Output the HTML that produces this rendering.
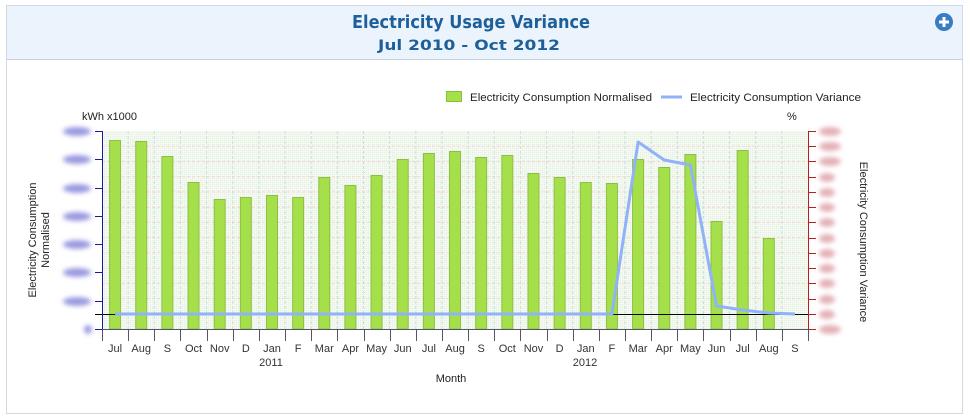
<!DOCTYPE html>
<html><head><meta charset="utf-8"><style>
html,body{margin:0;padding:0;background:#fff;width:970px;height:419px;overflow:hidden;font-family:"Liberation Sans",sans-serif}
</style></head><body>
<svg width="970" height="419" viewBox="0 0 970 419" xmlns="http://www.w3.org/2000/svg" font-family="Liberation Sans, sans-serif">
<defs>
<filter id="bl" x="-50%" y="-100%" width="200%" height="300%"><feGaussianBlur stdDeviation="2.5"/></filter>
<pattern id="dots" width="2" height="2" patternUnits="userSpaceOnUse"><rect width="2" height="2" fill="#f4faf2"/><rect width="1" height="1" fill="#e4efe2"/></pattern>
</defs>
<rect x="0" y="0" width="970" height="419" fill="#fff"/>
<rect x="6.5" y="5.5" width="956" height="408" fill="#fff" stroke="#d4d8e0"/>
<rect x="7" y="6" width="955" height="53" fill="#ebf4fc"/>
<line x1="7" y1="59.5" x2="962" y2="59.5" stroke="#c8d0dc"/>
<text x="352" y="28" textLength="238" lengthAdjust="spacingAndGlyphs" font-family="DejaVu Sans, sans-serif" font-size="18" font-weight="bold" fill="#1e5f9a">Electricity Usage Variance</text>
<text x="378" y="50" textLength="182" lengthAdjust="spacingAndGlyphs" font-family="DejaVu Sans, sans-serif" font-size="14" font-weight="bold" fill="#1e5f9a">Jul 2010 - Oct 2012</text>
<circle cx="944" cy="22" r="9" fill="#3a7cc4"/>
<rect x="939" y="20.5" width="10" height="3" fill="#fff"/><rect x="942.5" y="17" width="3" height="10" fill="#fff"/>
<!-- legend -->
<rect x="446.5" y="91.5" width="15" height="10" fill="#a5e04a" stroke="#8bbf3a"/>
<text x="470" y="101" font-size="11" fill="#222" textLength="182" lengthAdjust="spacingAndGlyphs">Electricity Consumption Normalised</text>
<line x1="661" y1="97" x2="682" y2="97" stroke="#8fb2f8" stroke-width="3"/>
<text x="690" y="101" font-size="11" fill="#222" textLength="171" lengthAdjust="spacingAndGlyphs">Electricity Consumption Variance</text>
<text x="82" y="120" font-size="11" fill="#222">kWh x1000</text>
<text x="787" y="120" font-size="11" fill="#222">%</text>
<!-- plot bg -->
<rect x="102" y="131" width="706" height="198" fill="url(#dots)"/>
<g stroke="#f3d8d0" stroke-dasharray="3,2" stroke-width="1">
<line x1="102" y1="146.2" x2="808" y2="146.2"/><line x1="102" y1="161.5" x2="808" y2="161.5"/><line x1="102" y1="176.7" x2="808" y2="176.7"/><line x1="102" y1="191.9" x2="808" y2="191.9"/><line x1="102" y1="207.2" x2="808" y2="207.2"/><line x1="102" y1="222.4" x2="808" y2="222.4"/><line x1="102" y1="237.6" x2="808" y2="237.6"/><line x1="102" y1="252.8" x2="808" y2="252.8"/><line x1="102" y1="268.1" x2="808" y2="268.1"/><line x1="102" y1="283.3" x2="808" y2="283.3"/><line x1="102" y1="298.5" x2="808" y2="298.5"/>
</g>
<g stroke="#c8e0d8" stroke-dasharray="3,2" stroke-width="1" id="vg"></g>
<g id="bars"></g>
<line x1="102" y1="314.5" x2="808" y2="314.5" stroke="#000"/>
<polyline id="ln" fill="none" stroke="#8fb2f8" stroke-width="3" stroke-linejoin="round"/>
<!-- axes -->
<line x1="102.5" y1="131" x2="102.5" y2="329" stroke="#1a1aa0"/>
<line x1="808.5" y1="131" x2="808.5" y2="329" stroke="#b02020"/>
<line x1="102" y1="329.5" x2="808" y2="329.5" stroke="#556"/>
<g id="ax"></g>
<text transform="translate(36,240) rotate(-90)" text-anchor="middle" font-size="11" fill="#222">Electricity Consumption</text>
<text transform="translate(49,240) rotate(-90)" text-anchor="middle" font-size="11" fill="#222">Normalised</text>
<text transform="translate(860,242) rotate(90)" text-anchor="middle" font-size="11" fill="#222">Electricity Consumption Variance</text>
<text x="451" y="382" text-anchor="middle" font-size="11" fill="#222">Month</text>
<text x="271" y="366" text-anchor="middle" font-size="11" fill="#333">2011</text>
<text x="585" y="366" text-anchor="middle" font-size="11" fill="#333">2012</text>
</svg>
<script>
var ns="http://www.w3.org/2000/svg";
function el(p,t,a,txt){var e=document.createElementNS(ns,t);for(var k in a)e.setAttribute(k,a[k]);if(txt)e.textContent=txt;document.getElementById(p).appendChild(e);return e;}
var W=26.15,L=102;
var labs=["Jul","Aug","S","Oct","Nov","D","Jan","F","Mar","Apr","May","Jun","Jul","Aug","S","Oct","Nov","D","Jan","F","Mar","Apr","May","Jun","Jul","Aug","S"];
var tops=[140,141,156,182,199,197,195,197,177,185,175,159,153,151,157,155,173,177,182,183,159,167,154,221,150,238,null];
for(var i=0;i<27;i++){var cx=L+W*(i+0.5);
 if(i>0)el("vg","line",{x1:L+W*i,y1:131,x2:L+W*i,y2:329});
 if(tops[i])el("bars","rect",{x:cx-5.5,y:tops[i]+.5,width:11,height:329-tops[i]-.5,fill:"#a5e04a",stroke:"#8cbf46","stroke-width":1});
 el("ax","text",{x:cx,y:352,"text-anchor":"middle","font-size":11,fill:"#333"},labs[i]);
}
for(var i=0;i<=27;i++){var x=Math.round(L+W*i)+.5;el("ax","line",{x1:x,y1:329,x2:x,y2:341,stroke:"#556"});}
for(var j=0;j<8;j++){var y=Math.round(131+28.29*j)+.5;el("ax","line",{x1:95,y1:y,x2:102,y2:y,stroke:"#1a1aa0"});
 el("ax","ellipse",{cx:j==7?88:77,cy:y,rx:j==7?4:14,ry:4.5,fill:"#9a9ae0",filter:"url(#bl)"});}
el("ax","line",{x1:95,y1:314.5,x2:102,y2:314.5,stroke:"#000"});
for(var j=0;j<14;j++){var y=Math.round(131+15.23*j)+.5;el("ax","line",{x1:808,y1:y,x2:816,y2:y,stroke:"#b02020"});
 el("ax","ellipse",{cx:j<3||j==13?830:827,cy:y,rx:j<3||j==13?11:8,ry:4.5,fill:"#e4b0b6",filter:"url(#bl)"});}
var pts=[];for(var i=0;i<=19;i++)pts.push([L+W*(i+0.5),314]);
var tail=[142,160,165,306,310,313,314];for(var k=0;k<7;k++)pts.push([L+W*(20+k+0.5),tail[k]]);
document.getElementById("ln").setAttribute("points",pts.map(function(p){return p[0].toFixed(1)+","+p[1]}).join(" "));
</script>
</body></html>
